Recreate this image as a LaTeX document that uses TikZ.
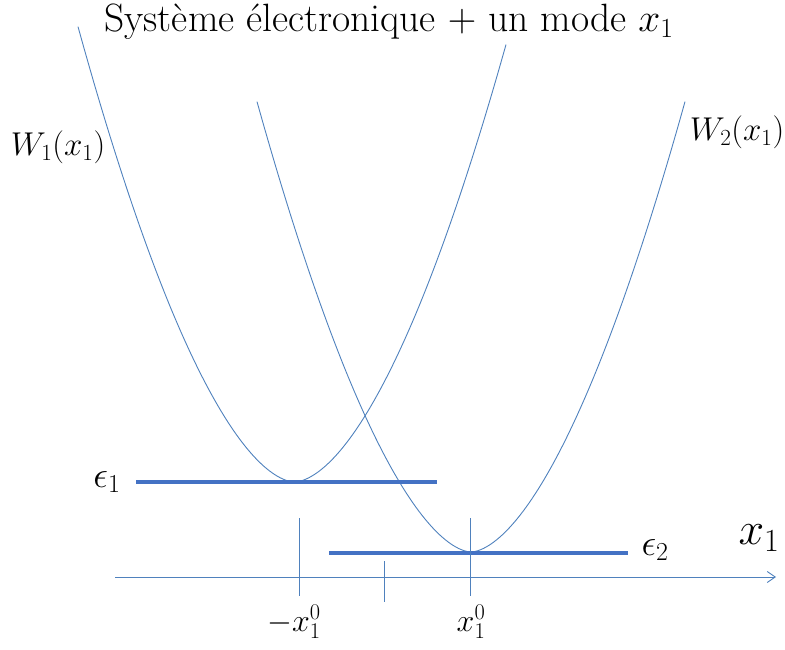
\RequirePackage{fix-cm}
\documentclass[tikz,border=0pt]{standalone}
\usetikzlibrary{arrows.meta}
\definecolor{thinblue}{HTML}{4F81BD}
\definecolor{thickblue}{HTML}{4472C4}
\begin{document}
\begin{tikzpicture}[x=1pt,y=-1pt,
  curve/.style={thinblue,line width=0.9pt},
  level/.style={thickblue,line width=3.6pt},
  tick/.style={thinblue,line width=1pt},
  lbl/.style={inner sep=0pt,font=\fontsize{33}{37}\selectfont}]
\useasboundingbox (0,0) rectangle (785,650);
% potential curves
\draw[curve] plot[domain=78:506,samples=160] (\x,{482-0.0438*pow(abs(\x-294.5),1.72)});
\draw[curve] plot[domain=257:685,samples=160] (\x,{552-0.0492*pow(abs(\x-471),1.70)});
% levels
\coordinate (e1a) at (136,482); \coordinate (e1b) at (437,482);
\coordinate (e2a) at (329,553); \coordinate (e2b) at (628,553);
\draw[level] (e1a) -- (e1b);
\draw[level] (e2a) -- (e2b);
% axis
\coordinate (axL) at (115,577); \coordinate (axR) at (776,577);
\draw[thinblue,line width=0.9pt,-{Straight Barb[length=8pt,width=11pt]}] (axL) -- (axR);
% ticks
\coordinate (t1a) at (299,518); \coordinate (t1b) at (299,596);
\coordinate (t2a) at (470,518); \coordinate (t2b) at (470,596);
\coordinate (t3a) at (384,561); \coordinate (t3b) at (384,602);
\draw[tick] (t1a) -- (t1b);
\draw[tick] (t2a) -- (t2b);
\draw[tick] (t3a) -- (t3b);
% labels
\node[inner sep=0pt,font=\fontsize{39.5}{44}\selectfont] (title) at (389,22) {Système électronique $+$ un mode $x_1$};
\node[lbl] (w1) at (58,147) {$W_1(x_1)$};
\node[lbl] (w2) at (737,132) {$W_2(x_1)$};
\node[inner sep=0pt,font=\fontsize{37}{42}\selectfont] (eps1) at (107,482) {$\epsilon_1$};
\node[inner sep=0pt,font=\fontsize{37}{42}\selectfont] (eps2) at (655,550) {$\epsilon_2$};
\node[inner sep=0pt,font=\fontsize{46}{52}\selectfont] (xax) at (759,538) {$x_1$};
\node[inner sep=0pt,font=\fontsize{32}{36}\selectfont] (mx0) at (294,622) {$-x_1^0$};
\node[inner sep=0pt,font=\fontsize{32}{36}\selectfont] (px0) at (471,622) {$x_1^0$};
\end{tikzpicture}
\end{document}
